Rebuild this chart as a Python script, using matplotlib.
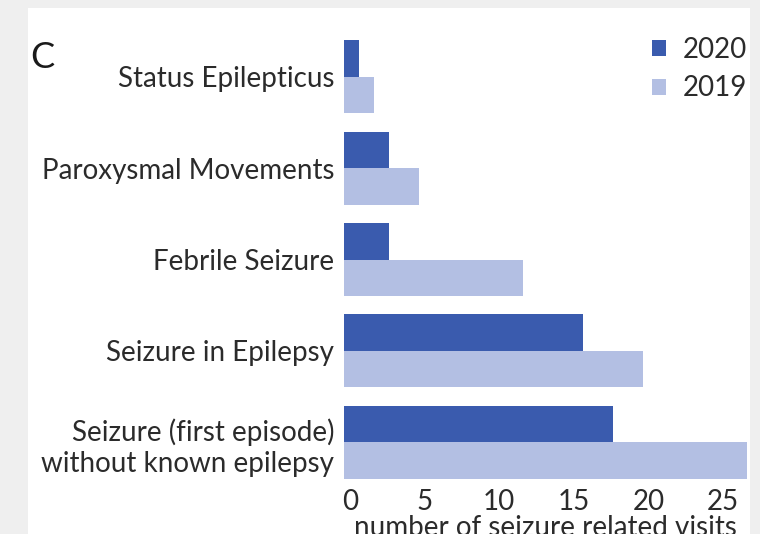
import matplotlib
matplotlib.use("Agg")
import matplotlib.pyplot as plt
import numpy as np
from matplotlib.patches import Rectangle
from matplotlib.transforms import ScaledTranslation

plt.rcParams["font.family"] = ["Lato", "DejaVu Sans"]

# --- dados ---
categorias = ["Status Epilepticus", "Paroxysmal Movements", "Febrile Seizure",
              "Seizure in Epilepsy", "Seizure (first episode)\nwithout known epilepsy"]
visitas_2020 = [1, 3, 3, 16, 18]
visitas_2019 = [2, 5, 12, 20, 27]
xticks = [0, 5, 10, 15, 20, 25]

COR_2020 = "#3a5bae"
COR_2019 = "#b3bfe3"
TEXTO = "#2b2b2b"

fig = plt.figure(figsize=(7.6, 5.34), dpi=100, facecolor="#efefef")
# painel branco do recorte
fig.patches.append(Rectangle((28 / 760, 0), (750 - 28) / 760, 1 - 8 / 534,
                             transform=fig.transFigure, facecolor="white",
                             edgecolor="none", zorder=-10))

ax = fig.add_axes([344 / 760, 46 / 534, (747 - 344) / 760, 457 / 534])
ax.set_facecolor("none")

y = np.arange(len(categorias))
h = 0.4
ax.barh(y - h / 2, visitas_2020, height=h, color=COR_2020, label="2020")
ax.barh(y + h / 2, visitas_2019, height=h, color=COR_2019, label="2019")

ax.set_ylim(len(categorias) - 0.5, -0.5)
ax.set_xlim(0, 27)
ax.set_yticks(y)
ax.set_yticklabels(categorias, fontsize=20, color=TEXTO, linespacing=1.25)
ax.set_xticks(xticks)
ax.set_xticklabels([str(t) for t in xticks], fontsize=20, color=TEXTO)
ax.tick_params(axis="y", length=0, pad=7)
ax.tick_params(axis="x", length=0, pad=1)
# no original os rótulos do eixo x estão um pouco deslocados para a direita
desloc = ScaledTranslation(6 / 100, 0, fig.dpi_scale_trans)
for lbl in ax.get_xticklabels():
    lbl.set_transform(lbl.get_transform() + desloc)
for s in ax.spines.values():
    s.set_visible(False)

ax.set_xlabel("number of seizure related visits", fontsize=20, color=TEXTO, labelpad=0)

fig.text(30 / 760, 1 - 57 / 534, "C", fontsize=26, color="#1a1a1a", va="center", ha="left")

ax.legend(loc="upper right", bbox_to_anchor=(1.0, 1 - 6 / 457), frameon=False, fontsize=20,
          handlelength=0.5, handleheight=0.5, handletextpad=0.6, labelspacing=0.45,
          borderaxespad=0, borderpad=0, labelcolor=TEXTO)

fig.savefig("out.png", dpi=100, facecolor=fig.get_facecolor())
